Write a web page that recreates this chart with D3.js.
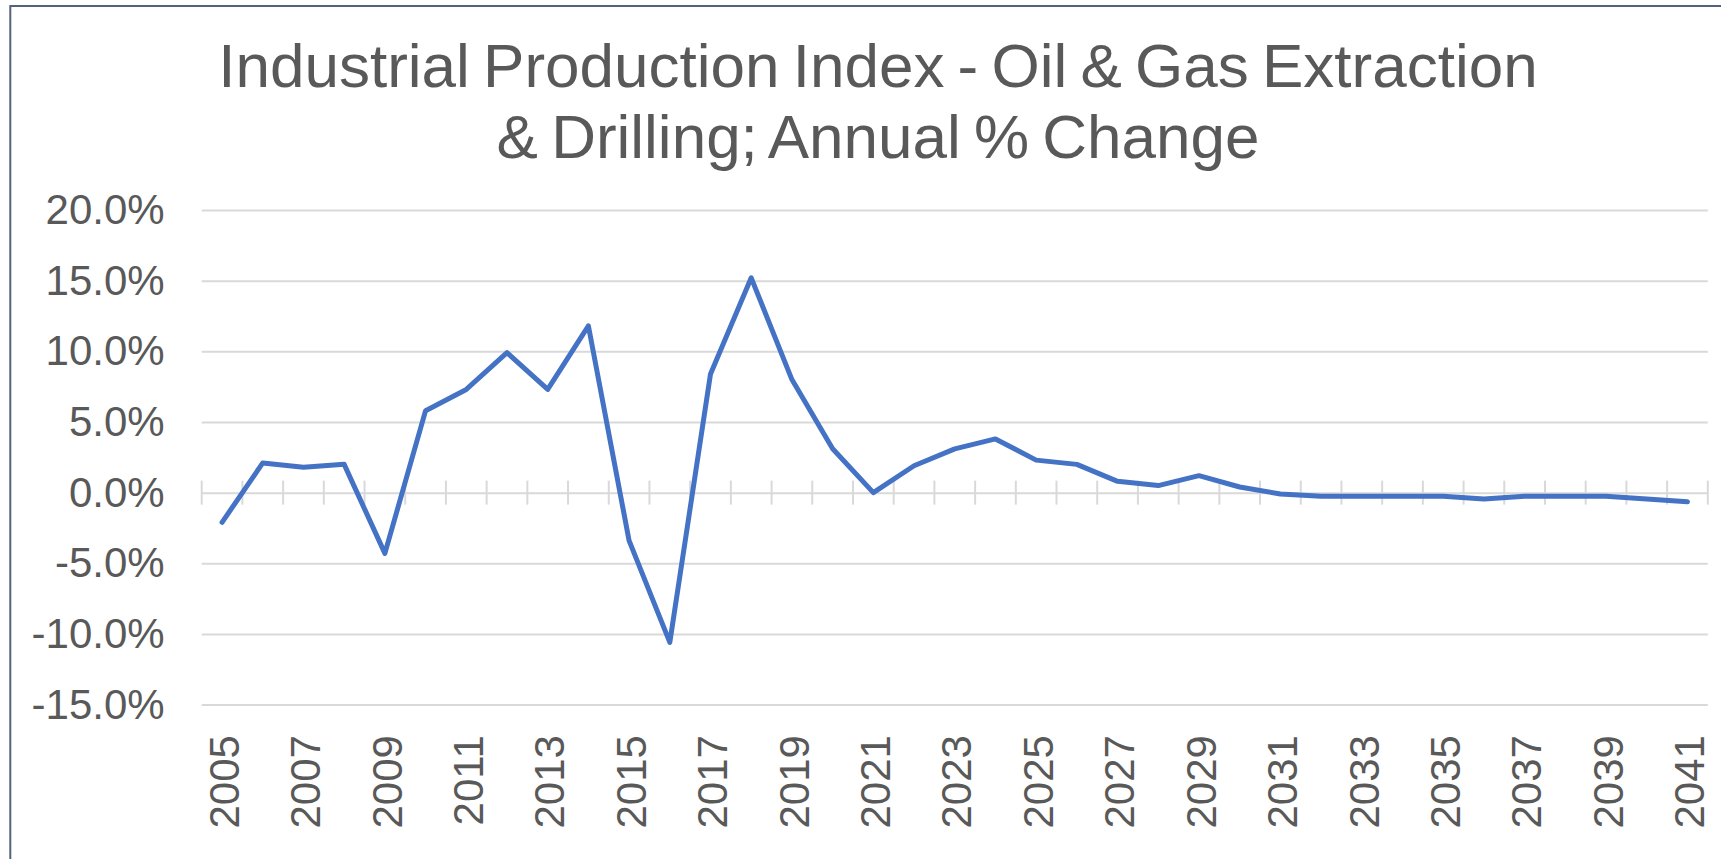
<!DOCTYPE html>
<html>
<head>
<meta charset="utf-8">
<script src="https://cdn.jsdelivr.net/npm/d3@7"></script>
<style>
  body { margin: 0; background: #fff; }
  svg { display: block; font-family: "Liberation Sans", Arial, sans-serif; }
</style>
</head>
<body>
<svg class="chart"></svg>
<script>
const width = 1721;
const height = 859;

// data (annual % change)
const years = d3.range(2005, 2042);
const values = [
  -2.1, 2.1, 1.8, 2.0, -4.3, 5.8, 7.3, 9.9, 7.3, 11.8,
  -3.4, -10.6, 8.4, 15.2, 8.0, 3.1, 0.0, 1.9, 3.1, 3.8,
  2.3, 2.0, 0.8, 0.5, 1.2, 0.4, -0.1, -0.25, -0.25, -0.25,
  -0.25, -0.45, -0.25, -0.25, -0.25, -0.45, -0.65
];
const yTicks = [-15, -10, -5, 0, 5, 10, 15, 20];
const xLabelYears = years.filter(y => y % 2 === 1);
const titleLines = [
  'Industrial Production Index - Oil & Gas Extraction',
  '& Drilling; Annual % Change'
];

const plot = { left: 201.7, right: 1707.8, top: 210, bottom: 704.6 };

const chart = d3.select('.chart')
  .attr('width', width)
  .attr('height', height);

// outer chart border (only top and left visible)
chart.append('rect')
  .attr('x', 10.3)
  .attr('y', 6)
  .attr('width', 1800)
  .attr('height', 1000)
  .attr('fill', 'none')
  .attr('stroke', '#54627a')
  .attr('stroke-width', 2);

const xScale = d3.scaleBand()
  .domain(years)
  .range([plot.left, plot.right]);

const yScale = d3.scaleLinear()
  .domain([-15, 20])
  .range([plot.bottom, plot.top]);

/*----- GRID + Y AXIS ------*/
const yAxis = d3.axisLeft(yScale)
  .tickValues(yTicks)
  .tickSize(-(plot.right - plot.left))
  .tickPadding(37)
  .tickFormat(d => d.toFixed(1) + '%');

const yG = chart.append('g')
  .attr('transform', `translate(${plot.left}, 0)`)
  .call(yAxis);

yG.select('.domain').remove();
yG.selectAll('.tick line')
  .attr('stroke', '#d9d9d9')
  .attr('stroke-width', 2);
yG.selectAll('.tick text')
  .attr('fill', '#595959')
  .style('font-size', '42px');

/*----- tick marks crossing the zero line ------*/
const tickXs = years.map(y => xScale(y)).concat([plot.right]);
chart.append('g')
  .selectAll('line')
  .data(tickXs)
  .enter()
  .append('line')
  .attr('x1', d => d)
  .attr('x2', d => d)
  .attr('y1', yScale(0) - 12)
  .attr('y2', yScale(0) + 12)
  .attr('stroke', '#d9d9d9')
  .attr('stroke-width', 2);

/*----- X LABELS (low position) ------*/
const xAxis = d3.axisBottom(xScale)
  .tickValues(xLabelYears)
  .tickSize(0)
  .tickFormat(d => String(d));

const xG = chart.append('g')
  .attr('transform', `translate(0, ${plot.bottom})`)
  .call(xAxis);

xG.select('.domain').remove();
xG.selectAll('.tick text')
  .attr('fill', '#595959')
  .style('font-size', '42px')
  .attr('text-anchor', 'end')
  .attr('transform', 'rotate(-90)')
  .attr('x', -30.5)
  .attr('y', 2)
  .attr('dy', '0.35em');

/*----- LINE ------*/
const line = d3.line()
  .x((d, i) => xScale(years[i]) + xScale.bandwidth() / 2)
  .y(d => yScale(d));

chart.append('path')
  .datum(values)
  .attr('d', line)
  .attr('fill', 'none')
  .attr('stroke', '#4472c4')
  .attr('stroke-width', 5)
  .attr('stroke-linejoin', 'round')
  .attr('stroke-linecap', 'round');

/*----- TITLE ------*/
chart.append('g')
  .selectAll('text')
  .data(titleLines)
  .enter()
  .append('text')
  .attr('x', 878)
  .attr('y', (d, i) => 87 + i * 71)
  .attr('text-anchor', 'middle')
  .attr('fill', '#595959')
  .style('font-size', '62px')
  .style('word-spacing', '-4px')
  .text(d => d);
</script>
</body>
</html>
